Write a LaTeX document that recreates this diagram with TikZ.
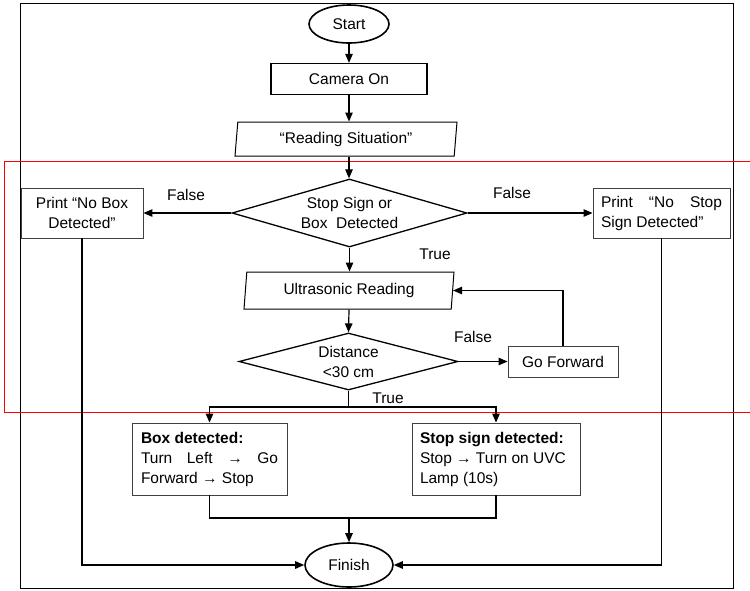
\documentclass[tikz,border=0pt]{standalone}
\usepackage{fontspec}
\setmainfont{Liberation Sans}
\usetikzlibrary{shapes.geometric,arrows.meta}
\begin{document}
\begin{tikzpicture}[x=1pt,y=-1pt,
  every node/.style={font=\fontsize{15.5}{20}\selectfont},
  conn/.style={line width=1.2pt, -{Triangle[length=9pt,width=7.5pt]}},
  wire/.style={line width=1.2pt},
  term/.style={ellipse, draw, line width=1.6pt, inner sep=0pt},
  procbox/.style={rectangle, draw=black!75, line width=0.9pt, inner sep=0pt, align=center},
  decision/.style={diamond, draw, line width=1.3pt, inner sep=0pt, align=center},
  para/.style={trapezium, trapezium left angle=79, trapezium right angle=101,
    trapezium stretches body, draw, line width=1pt, inner sep=0pt},
  lbl/.style={inner sep=0pt}]
\useasboundingbox (0,0) rectangle (750,590);
% frames
\draw[line width=0.9pt] (20,3) rectangle (733,588);
\draw[red, line width=0.9pt] (750,161) -- (4,161) -- (4,412) -- (750,412);
% nodes
\node[term, minimum width=80pt, minimum height=38pt] (start) at (349,24) {Start};
\node[rectangle, draw, line width=1.3pt, minimum width=156pt, minimum height=31pt, inner sep=0pt] (cam) at (349,79) {Camera On};
\node[para, minimum width=222pt, minimum height=34pt] (read) at (346,139) {“Reading Situation”};
\node[decision, aspect=3.45, minimum width=235pt, minimum height=68pt] (dec1) at (349.5,213) {Stop Sign or\\Box\ \ Detected};
\node[procbox, minimum width=122pt, minimum height=50pt] (nobox) at (82,213) {Print “No Box\\Detected”};
\node[procbox, minimum width=137pt, minimum height=50pt] (nostop) at (661.5,213) {\parbox{121pt}{Print “No Stop\linebreak Sign Detected”}};
\node[para, minimum width=210pt, minimum height=37pt] (ultra) at (349,290.5) {Ultrasonic Reading};
\node[decision, aspect=3.84, minimum width=219pt, minimum height=57pt] (dec2) at (348.5,361.5) {Distance\\<30 cm};
\node[procbox, minimum width=110pt, minimum height=31pt] (gofwd) at (563,361.5) {Go Forward};
\node[procbox, minimum width=155pt, minimum height=72pt] (boxdet) at (209.5,459) {\parbox{137pt}{\textbf{Box detected:}\\Turn Left → Go\linebreak Forward → Stop}};
\node[procbox, minimum width=168pt, minimum height=72pt] (stopdet) at (496,459) {\parbox{152pt}{\textbf{Stop sign detected:}\\Stop → Turn on UVC\\Lamp (10s)}};
\node[term, minimum width=88pt, minimum height=44pt] (finish) at (349,565) {Finish};
% labels
\node[lbl] (f1) at (186,195) {False};
\node[lbl] (f2) at (512,193) {False};
\node[lbl] (t1) at (435,254) {True};
\node[lbl] (f3) at (473,337) {False};
\node[lbl] (t2) at (388,398) {True};
% helper points
\coordinate (split) at (348.5,407);
\coordinate (merge) at (349,518);
% connectors
\draw[conn] (start) -- (cam);
\draw[conn] (cam.south) -- (cam.south |- read.north);
\draw[conn] (read.south -| cam.south) -- (cam.south |- dec1.north);
\draw[conn] (dec1.west) -- (nobox.east);
\draw[conn] (dec1.east) -- (nostop.west);
\draw[conn] (dec1.south) -- (dec1.south |- ultra.north);
\draw[conn] (ultra.south) -- (dec2.north);
\draw[conn] (dec2.east) -- (gofwd.west);
\draw[conn] (gofwd.north) |- (ultra.east);
\draw[wire] (dec2.south) -- (split);
\draw[conn] (split) -| (boxdet.north);
\draw[conn] (split) -| (stopdet.north);
\draw[wire] (boxdet.south) |- (merge);
\draw[wire] (stopdet.south) |- (merge);
\draw[conn] (merge) -- (finish.north);
\draw[conn] (nobox.south) |- (finish.west);
\draw[conn] (nostop.south) |- (finish.east);
\end{tikzpicture}
\end{document}
